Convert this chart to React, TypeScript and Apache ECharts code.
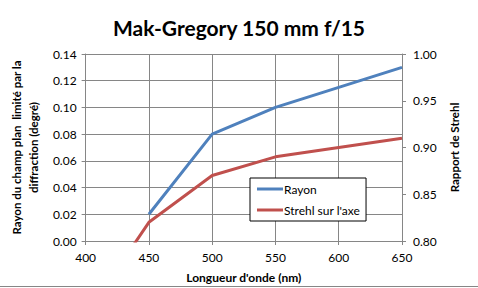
import React, { useEffect, useRef } from "react";
import * as echarts from "echarts";

const wavelengths = [400, 450, 500, 550, 600, 650];
const rayonValues: (number | null)[] = [null, 0.02, 0.08, 0.1, 0.115, 0.13];
const strehlValues: (number | null)[] = [0.72, 0.82, 0.87, 0.89, 0.9, 0.91];
const titleText = "Mak-Gregory 150 mm f/15";
const xName = "Longueur d'onde (nm)";
const yLeftName = "Rayon du champ plan  limité par la\ndiffraction (degré)";
const yRightName = "Rapport de Strehl";

const FONT = "Lato, 'Open Sans', sans-serif";

export default function App() {
  const ref = useRef<HTMLDivElement>(null);
  useEffect(() => {
    if (!ref.current) return;
    const chart = echarts.init(ref.current, undefined, { renderer: "svg" });
    const rayonData = wavelengths.map((w, i) => [w, rayonValues[i]]).filter((d) => d[1] !== null);
    const strehlData = wavelengths.map((w, i) => [w, strehlValues[i]]).filter((d) => d[1] !== null);
    const gridColor = "#868686";
    chart.setOption({
      animation: false,
      backgroundColor: "#ffffff",
      textStyle: { fontFamily: FONT },
      title: {
        text: titleText,
        left: "center",
        top: 12,
        textStyle: { fontFamily: FONT, fontSize: 21, fontWeight: "bold", color: "#000" },
      },
      grid: { left: 82, right: 76, top: 54, bottom: 46, containLabel: false },
      legend: {
        orient: "vertical",
        left: 250,
        top: 178,
        width: 121,
        height: 49,
        padding: [5, 6, 5, 7],
        itemGap: 9,
        itemWidth: 26,
        itemHeight: 3,
        icon: "rect",
        borderColor: "#000",
        borderWidth: 1,
        backgroundColor: "#fff",
        textStyle: { fontFamily: FONT, fontSize: 12, color: "#000", padding: [0, 0, 0, -4] },
        data: ["Rayon", "Strehl sur l'axe"],
      },
      xAxis: {
        type: "value",
        min: 400,
        max: 650,
        interval: 50,
        name: xName,
        nameLocation: "middle",
        nameGap: 30,
        nameTextStyle: { fontFamily: FONT, fontSize: 12, fontWeight: "bold", color: "#000" },
        axisLine: { lineStyle: { color: gridColor } },
        axisTick: { show: true, length: 4, lineStyle: { color: gridColor } },
        axisLabel: { fontFamily: FONT, fontSize: 12, color: "#000", margin: 10 },
        splitLine: { show: true, lineStyle: { color: gridColor, width: 1 } },
      },
      yAxis: [
        {
          type: "value",
          min: 0,
          max: 0.14,
          interval: 0.02,
          position: "left",
          name: yLeftName,
          nameLocation: "middle",
          nameGap: 42,
          nameRotate: 90,
          nameTextStyle: { fontFamily: FONT, fontSize: 11.5, fontWeight: "bold", color: "#000", lineHeight: 17 },
          axisLine: { show: true, lineStyle: { color: gridColor } },
          axisTick: { show: true, length: 4, lineStyle: { color: gridColor } },
          axisLabel: { fontFamily: FONT, fontSize: 12, color: "#000", margin: 9, formatter: (v: number) => v.toFixed(2) },
          splitLine: { show: true, lineStyle: { color: gridColor, width: 1 } },
        },
        {
          type: "value",
          min: 0.8,
          max: 1.0,
          interval: 0.05,
          position: "right",
          name: yRightName,
          nameLocation: "middle",
          nameGap: 46,
          nameRotate: 90,
          nameTextStyle: { fontFamily: FONT, fontSize: 11.5, fontWeight: "bold", color: "#000" },
          axisLine: { show: true, lineStyle: { color: gridColor } },
          axisTick: { show: true, length: 4, lineStyle: { color: gridColor } },
          axisLabel: { fontFamily: FONT, fontSize: 12, color: "#000", margin: 11, formatter: (v: number) => v.toFixed(2) },
          splitLine: { show: false },
        },
      ],
      series: [
        {
          name: "Rayon",
          type: "line",
          yAxisIndex: 0,
          data: rayonData,
          symbol: "none",
          clip: true,
          lineStyle: { color: "#4F81BD", width: 3 },
          itemStyle: { color: "#4F81BD" },
        },
        {
          name: "Strehl sur l'axe",
          type: "line",
          yAxisIndex: 1,
          data: strehlData,
          symbol: "none",
          clip: true,
          lineStyle: { color: "#C0504D", width: 3 },
          itemStyle: { color: "#C0504D" },
        },
      ],
      graphic: [
        {
          type: "line",
          shape: { x1: 0, y1: 286.5, x2: 478, y2: 286.5 },
          style: { stroke: "#868686", lineWidth: 1 },
        },
      ],
    });
    return () => chart.dispose();
  }, []);
  return (
    <div
      ref={ref}
      style={{ position: "fixed", left: 0, top: 0, width: 478, height: 288 }}
    />
  );
}
